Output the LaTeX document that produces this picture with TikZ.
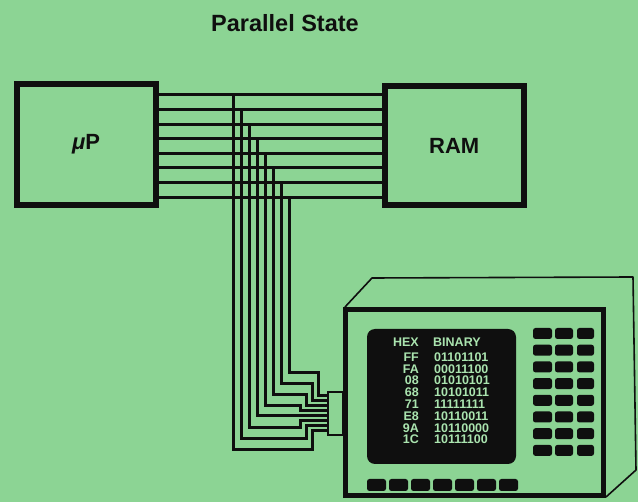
\documentclass[tikz,border=0pt]{standalone}
\usepackage{fontspec}
\setmainfont{Liberation Sans}
\definecolor{bg}{RGB}{140,212,148}
\definecolor{ink}{RGB}{15,15,15}
\definecolor{scrtext}{RGB}{170,228,175}
\begin{document}
\begin{tikzpicture}[x=1pt,y=-1pt,
  box/.style={draw=ink, line width=6pt, fill=bg, inner sep=0pt, text=ink,
    font=\fontsize{22}{26}\selectfont\bfseries},
  wire/.style={draw=ink, line width=3pt},
  keycap/.style={fill=ink, rounded corners=2.5pt},
  scr/.style={text=scrtext, inner sep=0pt, font=\fontsize{12.5}{14}\selectfont\bfseries},
]
\fill[bg] (0,0) rectangle (638,502);
\useasboundingbox (0,0) rectangle (638,502);

% title
\node[text=ink, font=\fontsize{23.5}{28}\selectfont\bfseries] (title) at (285,23) {Parallel State};

% boxes
\node[box, minimum width=139pt, minimum height=121pt] (up) at (86,144.5) {{\itshape μ}P};
\node[box, minimum width=138.5pt, minimum height=119pt] (ram) at (454.25,145.5) {RAM};

% analyzer body
\draw[ink, line width=1.6pt, line join=round] (345,307) -- (372,278) -- (633,277) -- (636,470) -- (606,497);
\node[draw=ink, line width=5pt, fill=bg, minimum width=257.5pt, minimum height=185.5pt, inner sep=0pt] (an) at (474.25,402.75) {};

% screen
\node[fill=ink, rounded corners=8pt, minimum width=149pt, minimum height=135pt, inner sep=0pt] (screen) at (441.5,396.5) {};
\node[scr, anchor=east] (hexh) at (419,342) {HEX};
\node[scr, anchor=west] (binh) at (433,342) {BINARY};
\foreach \h/\b [count=\n from 0] in {FF/01101101, FA/00011100, 08/01010101, 68/10101011,
  71/11111111, E8/10110011, 9A/10110000, 1C/10111100} {
  \node[scr, anchor=east] (hex\n) at (419,357+11.8*\n) {\h};
  \node[scr, anchor=west] (bin\n) at (434,357+11.8*\n) {\b};
}

% keypad
\foreach \r in {0,...,7} {
  \foreach \xa/\xb in {533/552, 555/573, 577/594} {
    \fill[keycap] (\xa,328+16.7*\r) rectangle (\xb,339+16.7*\r);
  }
}
% bottom buttons
\foreach \k in {0,...,6} {
  \fill[keycap] (367+22*\k,479) rectangle (386+22*\k,491);
}

% connector
\node[draw=ink, line width=2pt, fill=bg, minimum width=15pt, minimum height=43pt, inner sep=0pt] (conn) at (335.5,413.5) {};

% bus lines
\foreach \i in {1,...,8} {
  \pgfmathsetmacro\yy{95+14.6*(\i-1)}
  \draw[wire] (up.east |- 0,\yy) -- (ram.west |- 0,\yy);
}

% wires to analyzer
\foreach \x/\yy/\t/\s/\e in {233/95/450/312/431, 241/109.6/439/306/426, 249/124.2/428/300/421,
  257/138.8/416/300/416, 265/153.4/406/300/411, 273/168/395/306/406,
  281/182.6/384/312/401, 289/197.2/373/318/396} {
  \draw[wire] (\x,\yy) -- (\x,\t) -- (\s,\t) -- (\s,\e) -- (conn.west |- 0,\e);
}
\end{tikzpicture}
\end{document}
